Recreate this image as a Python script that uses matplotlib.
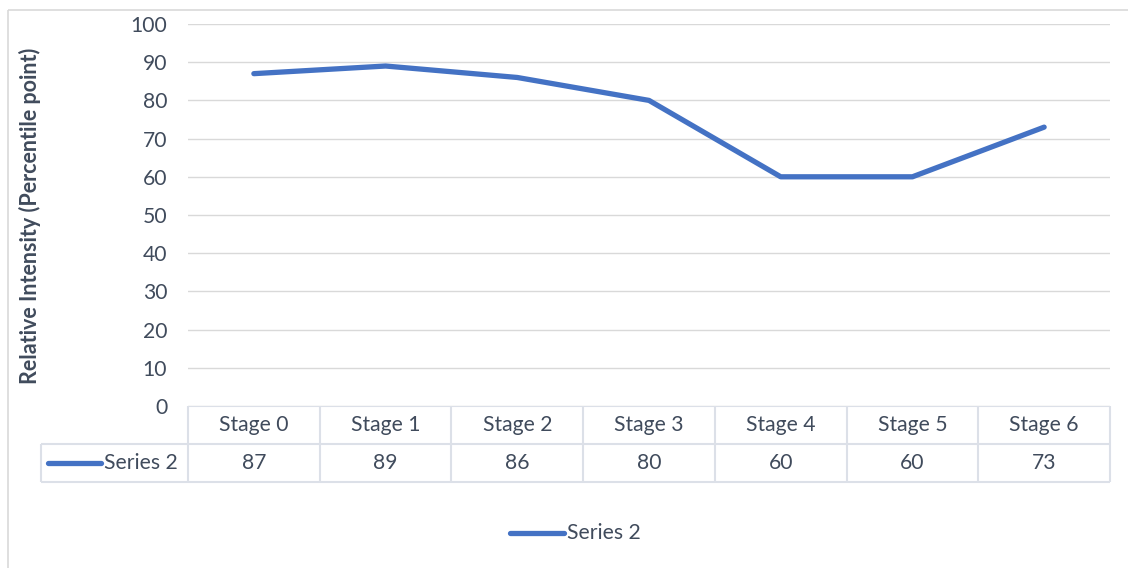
import matplotlib.pyplot as plt
from matplotlib.patches import Rectangle

# Series data
stages = ['Stage 0', 'Stage 1', 'Stage 2', 'Stage 3', 'Stage 4', 'Stage 5', 'Stage 6']
series_name = 'Series 2'
series_values = [87, 89, 86, 80, 60, 60, 73]
y_ticks = [0, 10, 20, 30, 40, 50, 60, 70, 80, 90, 100]

LINE_COLOR = '#4472C4'
TEXT_COLOR = '#404B5C'
GRID_COLOR = '#D9D9D9'
TABLE_COLOR = '#DCE0E8'
FS = 15.2

plt.rcParams['font.family'] = ['Lato', 'DejaVu Sans']

W, H = 1128, 568
fig = plt.figure(figsize=(W / 100, H / 100), dpi=100)

# Pixel layout of the plot area
PX_LEFT, PX_RIGHT, PX_TOP, PX_BOTTOM = 188, 1110, 24, 406
ax = fig.add_axes([PX_LEFT / W, 1 - PX_BOTTOM / H,
                   (PX_RIGHT - PX_LEFT) / W, (PX_BOTTOM - PX_TOP) / H])

x = list(range(len(stages)))
ax.plot(x, series_values, color=LINE_COLOR, linewidth=3.8,
        solid_capstyle='round', solid_joinstyle='round', zorder=3)

ax.set_xlim(-0.5, len(stages) - 0.5)
ax.set_ylim(0, 100)
ax.set_yticks(y_ticks)
ax.set_xticks([])
ax.tick_params(axis='y', length=0, pad=15, labelsize=FS, labelcolor=TEXT_COLOR)
ax.grid(axis='y', color=GRID_COLOR, linewidth=1)
ax.set_axisbelow(True)
for s in ax.spines.values():
    s.set_visible(False)

fig.text(30 / W, 1 - 216 / H, 'Relative Intensity (Percentile point)',
         rotation=90, ha='center', va='center', fontsize=15.5,
         fontweight='bold', color=TEXT_COLOR)

# Overlay in pixel coordinates for the data table, legend and chart border
ov = fig.add_axes([0, 0, 1, 1], zorder=-1)
ov.set_xlim(0, W)
ov.set_ylim(H, 0)
ov.axis('off')

ov.add_patch(Rectangle((8, 10), W, H, fill=False, edgecolor='#D9D9D9',
                       linewidth=1.2, clip_on=False))

col_w = (PX_RIGHT - PX_LEFT) / len(stages)
row_top, row_mid, row_bot = 406, 444, 482
lbl_left = 41
tkw = dict(color=TABLE_COLOR, linewidth=1.5, solid_capstyle='butt')

# horizontal table rules
ov.plot([PX_LEFT, PX_RIGHT], [row_top, row_top], **tkw)
ov.plot([lbl_left, PX_RIGHT], [row_mid, row_mid], **tkw)
ov.plot([lbl_left, PX_RIGHT], [row_bot, row_bot], **tkw)
# vertical table rules
ov.plot([lbl_left, lbl_left], [row_mid, row_bot], **tkw)
for i in range(len(stages) + 1):
    xc = PX_LEFT + i * col_w
    ov.plot([xc, xc], [row_top, row_bot], **tkw)

for i, (name, val) in enumerate(zip(stages, series_values)):
    xc = PX_LEFT + (i + 0.5) * col_w
    ov.text(xc, (row_top + row_mid) / 2, name, ha='center', va='center',
            fontsize=FS, color=TEXT_COLOR)
    ov.text(xc, (row_mid + row_bot) / 2, str(val), ha='center', va='center',
            fontsize=FS, color=TEXT_COLOR)

# series key inside the table
ov.plot([48, 101], [(row_mid + row_bot) / 2] * 2, color=LINE_COLOR,
        linewidth=3.8, solid_capstyle='round')
ov.text(104, (row_mid + row_bot) / 2, series_name, ha='left', va='center',
        fontsize=FS, color=TEXT_COLOR)

# legend below the table
ov.plot([510, 564], [533, 533], color=LINE_COLOR, linewidth=3.8,
        solid_capstyle='round')
ov.text(567, 533, series_name, ha='left', va='center', fontsize=FS,
        color=TEXT_COLOR)

fig.savefig('out.png', dpi=100)
